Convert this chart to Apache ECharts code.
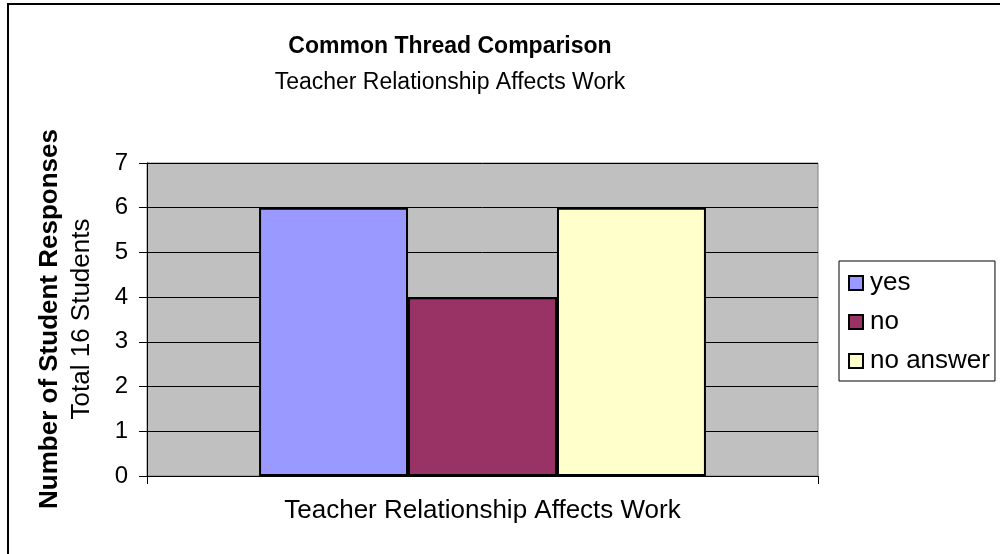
<!DOCTYPE html>
<html>
<head>
<meta charset="utf-8">
<script src="https://cdn.jsdelivr.net/npm/echarts@6/dist/echarts.min.js"></script>
<style>
  html, body { margin: 0; padding: 0; background: #fff; }
  #chart { width: 1000px; height: 554px; }
</style>
</head>
<body>
<div id="chart"></div>
<script>
// data
const categories = ['Teacher Relationship Affects Work'];
const seriesNames = ['yes', 'no', 'no answer'];
const yesValues = [6];
const noValues = [4];
const noAnswerValues = [6];
const barColors = ['#9999FF', '#993366', '#FFFFCC'];

const font = 'Liberation Sans, Arial, sans-serif';
const chart = echarts.init(document.getElementById('chart'));

const makeSeries = (name, data, color) => ({
  name,
  type: 'bar',
  data,
  barGap: '0%',
  barCategoryGap: '33.4%',
  itemStyle: { color, borderColor: '#000', borderWidth: 2 },
  emphasis: { disabled: true },
});

const option = {
  animation: false,
  textStyle: { fontFamily: font },
  title: [
    {
      text: 'Common Thread Comparison',
      left: 445, top: 30, textAlign: 'center',
      textStyle: { fontSize: 23, fontWeight: 'bold', color: '#000', fontFamily: font },
    },
    {
      text: 'Teacher Relationship Affects Work',
      left: 445, top: 66, textAlign: 'center',
      textStyle: { fontSize: 23, fontWeight: 'normal', color: '#000', fontFamily: font },
    },
  ],
  grid: {
    left: 147, top: 163, width: 671, height: 313,
    show: true, backgroundColor: '#C0C0C0', borderColor: '#808080', borderWidth: 1,
  },
  legend: {
    orient: 'vertical',
    left: 839, top: 261,
    padding: [9, 5, 7, 9],
    itemGap: 13,
    itemWidth: 14, itemHeight: 14,
    icon: 'rect',
    borderColor: '#000', borderWidth: 1,
    textStyle: { fontSize: 26, color: '#000', fontFamily: font, padding: [0, 0, 0, 2] },
    itemStyle: { borderColor: '#000', borderWidth: 2 },
    data: seriesNames,
  },
  xAxis: {
    type: 'category',
    data: categories,
    axisLine: { lineStyle: { color: '#000', width: 1 } },
    axisTick: { show: true, length: 8, lineStyle: { color: '#000' } },
    axisLabel: { fontSize: 26, color: '#000', margin: 22, fontFamily: font },
  },
  yAxis: {
    type: 'value',
    min: 0, max: 7, interval: 1,
    axisLine: { show: true, lineStyle: { color: '#000', width: 1 } },
    axisTick: { show: true, length: 8, lineStyle: { color: '#000' } },
    axisLabel: { fontSize: 24, color: '#000', margin: 19, fontFamily: font },
    splitLine: { show: true, lineStyle: { color: '#000', width: 1 } },
  },
  graphic: [
    {
      type: 'rect', silent: true,
      shape: { x: 8, y: 4, width: 1100, height: 700 },
      style: { fill: 'none', stroke: '#000', lineWidth: 2 },
    },
    {
      type: 'text', x: 50, y: 319, rotation: Math.PI / 2,
      style: {
        text: 'Number of Student Responses', fill: '#000',
        font: 'bold 26px ' + font, align: 'center', verticalAlign: 'middle',
      },
    },
    {
      type: 'text', x: 82, y: 319, rotation: Math.PI / 2,
      style: {
        text: 'Total 16 Students', fill: '#000',
        font: '26px ' + font, align: 'center', verticalAlign: 'middle',
      },
    },
  ],
  series: [
    makeSeries(seriesNames[0], yesValues, barColors[0]),
    makeSeries(seriesNames[1], noValues, barColors[1]),
    makeSeries(seriesNames[2], noAnswerValues, barColors[2]),
  ],
};

chart.setOption(option);
</script>
</body>
</html>
